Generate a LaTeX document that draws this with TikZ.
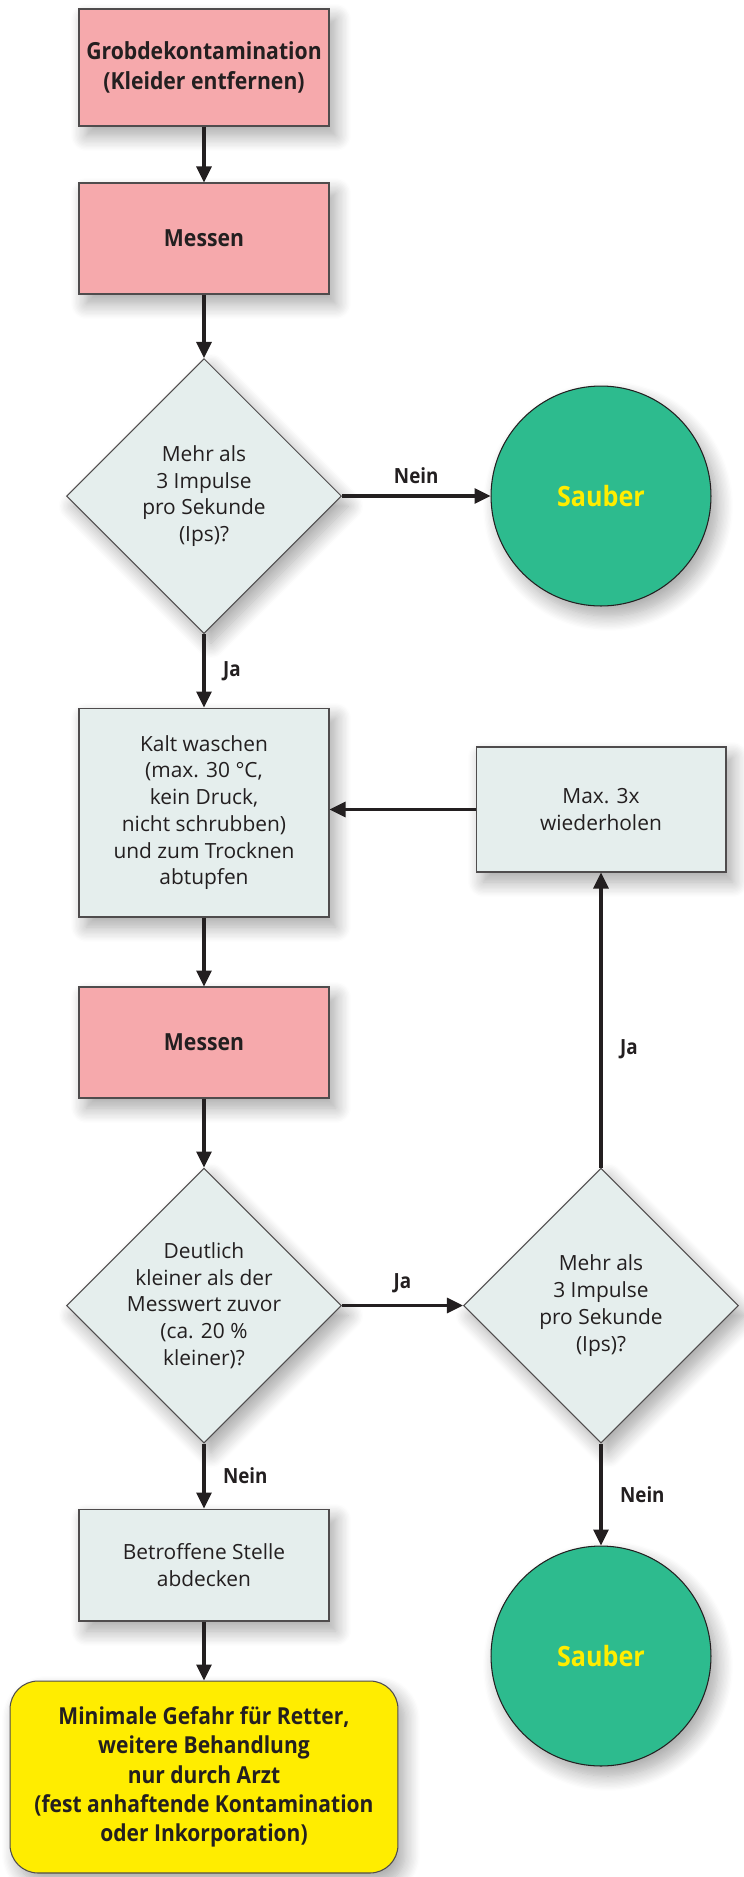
\documentclass[tikz,border=0pt]{standalone}
\usepackage{fontspec}
\setmainfont{Open Sans}[BoldFeatures={FakeStretch=0.9}]
\usetikzlibrary{shapes.geometric,shadows.blur,arrows.meta}

\definecolor{rosa}{HTML}{F6A9AC}
\definecolor{hellgrau}{HTML}{E5EEED}
\definecolor{gruen}{HTML}{2DBB8E}
\definecolor{gelb}{HTML}{FFED00}
\definecolor{schrift}{HTML}{231F20}

\begin{document}
\begin{tikzpicture}[x=0.02cm,y=-0.02cm,
  every node/.style={text=schrift,font=\fontsize{11.9}{15.2}\selectfont},
  schatten/.style={blur shadow={shadow xshift=0.14cm,shadow yshift=-0.2cm,shadow blur radius=0.3cm,shadow blur steps=12,shadow opacity=35}},
  kasten/.style={draw=schrift!80,line width=0.6pt,fill=hellgrau,align=center,minimum width=5cm,schatten},
  messkasten/.style={kasten,fill=rosa,font=\fontsize{13.4}{17}\selectfont\bfseries},
  raute/.style={diamond,draw=schrift!80,line width=0.6pt,fill=hellgrau,inner sep=0pt,minimum width=5.5cm,minimum height=5.5cm,schatten},
  sauber/.style={circle,draw=schrift,line width=0.6pt,fill=gruen,minimum size=4.4cm,inner sep=0pt,schatten,text=gelb,font=\fontsize{15.9}{18}\selectfont\bfseries},
  pfeil/.style={-{Triangle[length=0.32cm,width=0.3cm]},line width=1.8pt,draw=schrift},
  antwort/.style={font=\fontsize{11.9}{14}\selectfont\bfseries,inner sep=0pt}]
  \useasboundingbox (0,0) rectangle (744,1877);

  \node[messkasten,minimum height=2.34cm] (grob) at (204,67.5) {Grobdekontamination\\(Kleider entfernen)};
  \node[messkasten,minimum height=2.22cm] (messen1) at (204,238.5) {Messen};
  \node[raute,label={[align=center]center:Mehr als\\3 Impulse\\pro Sekunde\\(Ips)?}] (frage1) at (204,496) {};
  \node[sauber] (sauber1) at (601,496) {Sauber};
  \node[kasten,minimum height=4.18cm] (waschen) at (204,812.5) {Kalt waschen\\(max. 30 °C,\\kein Druck,\\nicht schrubben)\\und zum Trocknen\\abtupfen};
  \node[kasten,minimum height=2.5cm] (wiederholen) at (601,809.5) {Max. 3x\\wiederholen};
  \node[messkasten,minimum height=2.22cm] (messen2) at (204,1042.5) {Messen};
  \node[raute,label={[align=center]center:Deutlich\\kleiner als der\\Messwert zuvor\\(ca. 20 \%\\kleiner)?}] (frage2) at (204,1305.5) {};
  \node[raute,label={[align=center]center:Mehr als\\3 Impulse\\pro Sekunde\\(Ips)?}] (frage3) at (601,1305.5) {};
  \node[sauber] (sauber2) at (601,1656) {Sauber};
  \node[kasten,minimum height=2.24cm] (abdecken) at (204,1565) {Betroffene Stelle\\abdecken};
  \node[kasten,fill=gelb,rounded corners=0.56cm,minimum width=7.76cm,minimum height=3.84cm,font=\fontsize{13.3}{16.7}\selectfont\bfseries] (gefahr) at (204,1777) {Minimale Gefahr für Retter,\\weitere Behandlung\\nur durch Arzt\\(fest anhaftende Kontamination\\oder Inkorporation)};

  \draw[pfeil] (grob) -- (messen1);
  \draw[pfeil] (messen1) -- (frage1);
  \draw[pfeil] (frage1) -- node[antwort,above=0.22cm] {Nein} (sauber1);
  \draw[pfeil] (frage1) -- node[antwort,right=0.35cm] {Ja} (waschen);
  \draw[pfeil] (wiederholen.west) -- (wiederholen.west -| waschen.east);
  \draw[pfeil] (waschen) -- (messen2);
  \draw[pfeil] (messen2) -- (frage2);
  \draw[pfeil] (frage2) -- node[antwort,above=0.22cm] {Ja} (frage3);
  \draw[pfeil] (frage3) -- node[antwort,right=0.35cm,pos=0.4] {Ja} (wiederholen);
  \draw[pfeil] (frage2) -- node[antwort,right=0.35cm] {Nein} (abdecken);
  \draw[pfeil] (frage3) -- node[antwort,right=0.35cm] {Nein} (sauber2);
  \draw[pfeil] (abdecken) -- (gefahr);
\end{tikzpicture}
\end{document}
